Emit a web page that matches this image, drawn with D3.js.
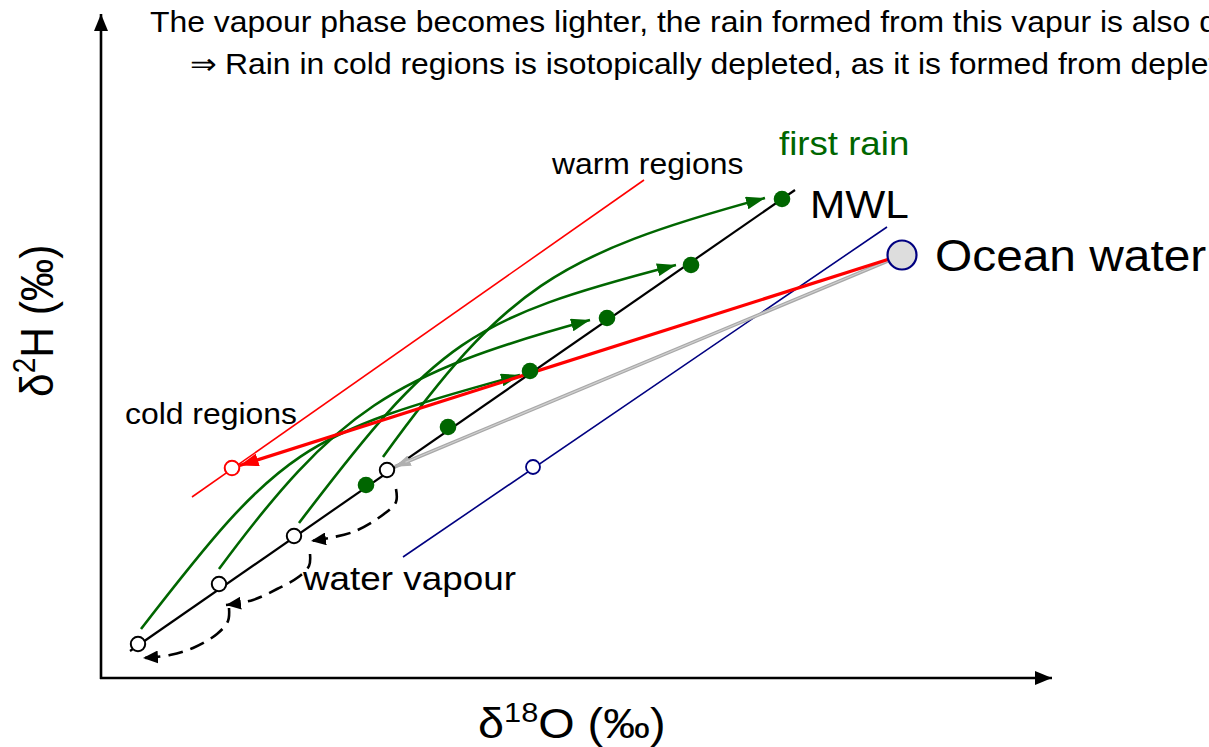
<!DOCTYPE html>
<html><head><meta charset="utf-8">
<script src="https://cdn.jsdelivr.net/npm/d3@7"></script>
<style>html,body{margin:0;padding:0;background:#fff;overflow:hidden}</style>
</head><body>
<svg id="chart" width="1209" height="747"></svg>
<script>
// ---- data (schematic units: x ~ δ18O, y ~ δ2H) ----
const vapourPoints = [[3.7,3.4],[11.8,9.4],[19.3,14.2],[28.6,20.8]];
const rainPoints = [[26.5,19.3],[34.7,25.1],[42.9,30.7],[50.6,36.0],[59.0,41.3],[68.1,47.9]];
const mwlLine = [[2.9,2.7],[69.4,48.8]];
const oceanWater = [80.1,42.3];
const coldRain = [13.1,21.0];
const regionLine = [[9.1,18.1],[54.3,49.8]];
const oceanLine = [[30.2,12.1],[78.6,45.1]];
const oceanLinePoint = [43.2,21.1];
// condensation paths (cubic Bezier: start, control, control, end)
const rainCurves = [
  [[4.0,4.9],[18.0,23.0],[19.9,24.3],[41.9,30.3]],
  [[11.8,10.9],[23.5,26.7],[29.1,30.4],[48.9,35.8]],
  [[19.8,15.5],[33.7,33.8],[36.7,35.9],[57.5,41.3]],
  [[28.2,22.1],[40.4,38.9],[45.4,42.3],[66.4,48.0]]
];
const vapourSteps = [
  [[29.5,18.9],[29.5,17.6],[28.3,16.4],[25.2,14.6],[21.0,13.7]],
  [[20.9,12.4],[20.8,11.2],[19.6,10.0],[17.6,8.9],[15.2,7.8],[12.5,7.3]],
  [[12.8,7.0],[12.7,5.7],[11.6,4.4],[9.2,3.0],[6.9,2.3],[4.2,2.0]]
];
const headerLines = [
  "The vapour phase becomes lighter, the rain formed from this vapur is also depleted",
  "\u21D2 Rain in cold regions is isotopically depleted, as it is formed from depleted vapour"
];
const labelTexts = {first:"first rain", mwl:"MWL", ocean:"Ocean water", warm:"warm regions", cold:"cold regions", vapour:"water vapour"};

// ---- scales ----
const x = d3.scaleLinear().domain([0,95]).range([101,1051]);
const y = d3.scaleLinear().domain([0,66]).range([678,18]);
const svg = d3.select("#chart");
const FONT = "'Liberation Sans', Arial, Helvetica, sans-serif";
const GREEN = "#006600", RED = "#ff0000", NAVY = "#000080";

// ---- markers ----
const defs = svg.append("defs");
function marker(id, len, wid, color){
  defs.append("marker").attr("id", id)
    .attr("markerUnits","userSpaceOnUse")
    .attr("markerWidth", len).attr("markerHeight", wid)
    .attr("refX", len).attr("refY", wid/2)
    .attr("orient","auto")
    .append("path").attr("d", `M0,0L${len},${wid/2}L0,${wid}Z`).attr("fill", color);
}
marker("axisHead", 17, 14, "#000");
marker("greenHead", 19, 13, GREEN);
marker("redHead", 19, 13, RED);
marker("grayHead", 16, 11, "#b0b0b0");
marker("blackHead", 15, 13, "#000");

// ---- axes ----
const xAxis = d3.axisBottom(x).ticks(0).tickSizeOuter(0);
const gx = svg.append("g").attr("transform", `translate(0,${y(0)})`).call(xAxis);
gx.select(".domain").attr("stroke","#000").attr("stroke-width",2.6).attr("d", `M${x(0)-1},0H${x(95.1)}`).attr("marker-end","url(#axisHead)");
const yAxis = d3.axisLeft(y).ticks(0).tickSizeOuter(0);
const gy = svg.append("g").attr("transform", `translate(${x(0)},0)`).call(yAxis);
gy.select(".domain").attr("stroke","#000").attr("stroke-width",2.6).attr("d", `M0,${y(0)+1}V${y(66.4)}`).attr("marker-end","url(#axisHead)");

const line = d3.line().x(d=>x(d[0])).y(d=>y(d[1]));
const curve = d3.line().x(d=>x(d[0])).y(d=>y(d[1])).curve(d3.curveCatmullRom.alpha(0.5));
function bezier(c){
  const p = d3.path();
  p.moveTo(x(c[0][0]), y(c[0][1]));
  p.bezierCurveTo(x(c[1][0]), y(c[1][1]), x(c[2][0]), y(c[2][1]), x(c[3][0]), y(c[3][1]));
  return p.toString();
}

// thin reference lines
svg.append("path").attr("d", line(regionLine)).attr("stroke", RED).attr("stroke-width",1.6).attr("fill","none");
svg.append("path").attr("d", line(oceanLine)).attr("stroke", NAVY).attr("stroke-width",1.6).attr("fill","none");
svg.append("path").attr("d", line(mwlLine)).attr("stroke", "#000").attr("stroke-width",2.2).attr("fill","none");

// green curves
svg.selectAll(".rc").data(rainCurves).join("path")
  .attr("d", d=>bezier(d)).attr("stroke", GREEN).attr("stroke-width",2.6).attr("fill","none")
  .attr("marker-end","url(#greenHead)");

function shortened(a, b, r){
  const ax=x(a[0]), ay=y(a[1]), bx=x(b[0]), by=y(b[1]);
  const L=Math.hypot(bx-ax,by-ay);
  return `M${ax},${ay}L${bx-(bx-ax)/L*r},${by-(by-ay)/L*r}`;
}
// gray arrow ocean -> vapour
svg.append("path").attr("d", shortened(oceanWater, vapourPoints[3], 8.5))
  .attr("stroke","#a8a8a8").attr("stroke-width",3.6).attr("fill","none").attr("marker-end","url(#grayHead)");
svg.append("path").attr("d", shortened(oceanWater, vapourPoints[3], 20))
  .attr("stroke","#d0d0d0").attr("stroke-width",1.2).attr("fill","none");
// red arrow ocean -> cold rain
svg.append("path").attr("d", shortened(oceanWater, coldRain, 8))
  .attr("stroke",RED).attr("stroke-width",3.2).attr("fill","none").attr("marker-end","url(#redHead)");

// dashed vapour steps
svg.selectAll(".vs").data(vapourSteps).join("path")
  .attr("d", d=>curve(d)).attr("stroke","#000").attr("stroke-width",2.6).attr("fill","none")
  .attr("stroke-dasharray","15,8").attr("marker-end","url(#blackHead)");

// points
svg.selectAll(".rain").data(rainPoints).join("circle")
  .attr("cx", d=>x(d[0])).attr("cy", d=>y(d[1])).attr("r", 8.3).attr("fill", GREEN);
svg.selectAll(".vap").data(vapourPoints).join("circle")
  .attr("cx", d=>x(d[0])).attr("cy", d=>y(d[1])).attr("r", 7.2).attr("fill", "#fff").attr("stroke","#000").attr("stroke-width",2);
svg.append("circle").attr("cx", x(coldRain[0])).attr("cy", y(coldRain[1])).attr("r",7.3)
  .attr("fill","#fff").attr("stroke",RED).attr("stroke-width",2);
svg.append("circle").attr("cx", x(oceanLinePoint[0])).attr("cy", y(oceanLinePoint[1])).attr("r",7)
  .attr("fill","#fff").attr("stroke",NAVY).attr("stroke-width",1.8);
svg.append("circle").attr("cx", x(oceanWater[0])).attr("cy", y(oceanWater[1])).attr("r",14.5)
  .attr("fill","#dddddd").attr("stroke",NAVY).attr("stroke-width",2.2);

// ---- text ----
const SX = 1.1;
function label(t, px, py, size, color){
  return svg.append("text").attr("transform", `translate(${px},${py}) scale(${SX},1)`)
    .attr("font-family", FONT).attr("font-size", size).attr("fill", color||"#000").text(t);
}
label(headerLines[0], 150, 32, 29);
label(headerLines[1], 190, 74, 29);
label(labelTexts.first, 779, 155, 33.3, GREEN);
label(labelTexts.mwl, 810, 218, 38.5);
label(labelTexts.ocean, 935, 271, 43.5);
label(labelTexts.warm, 552, 174, 29);
label(labelTexts.cold, 125, 424, 29);
label(labelTexts.vapour, 303, 590, 33.5);

// axis titles
const xt = svg.append("text").attr("transform", `translate(478,738) scale(${SX},1)`)
  .attr("font-family", FONT).attr("font-size", 42.5);
xt.append("tspan").text("\u03B4");
xt.append("tspan").attr("font-size", 28).attr("dy", -16).text("18");
xt.append("tspan").attr("dy", 16).text("O (\u2030)");

const yt = svg.append("text").attr("transform", `translate(53,397) scale(${SX},1) rotate(-90)`)
  .attr("font-family", FONT).attr("font-size", 42.5);
yt.append("tspan").text("\u03B4");
yt.append("tspan").attr("font-size", 28).attr("dy", -16).text("2");
yt.append("tspan").attr("dy", 16).text("H (\u2030)");
</script>
</body></html>
